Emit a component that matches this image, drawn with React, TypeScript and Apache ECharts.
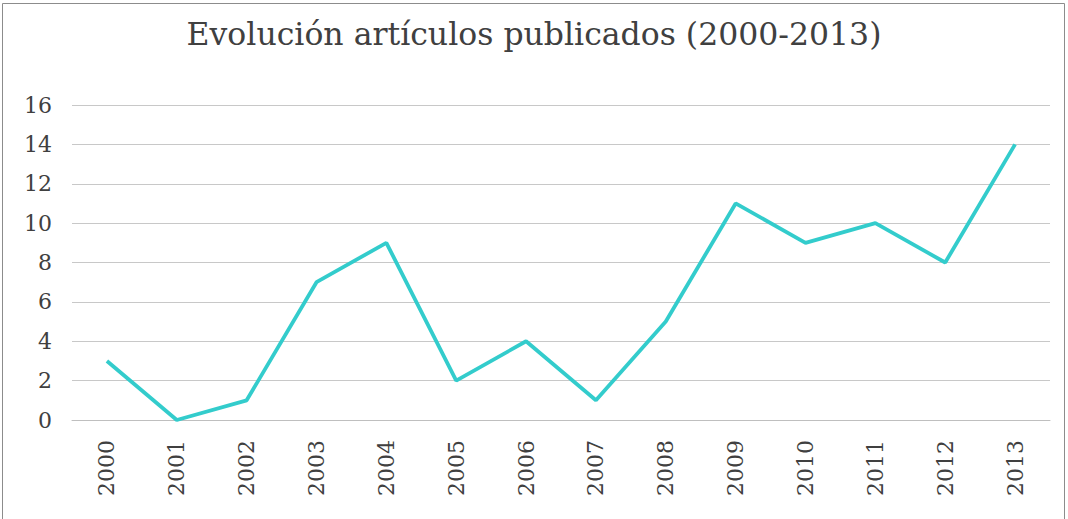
import React, { useEffect, useRef } from "react";
import * as echarts from "echarts";

const title = "Evolución artículos publicados (2000-2013)";
const years = ["2000", "2001", "2002", "2003", "2004", "2005", "2006", "2007", "2008", "2009", "2010", "2011", "2012", "2013"];
const articles = [3, 0, 1, 7, 9, 2, 4, 1, 5, 11, 9, 10, 8, 14];

const FONT = "DejaVu Serif";

export default function App() {
  const ref = useRef<HTMLDivElement>(null);
  useEffect(() => {
    const chart = echarts.init(ref.current!, null, { renderer: "svg" });
    chart.setOption({
      animation: false,
      backgroundColor: "#ffffff",
      title: {
        text: title,
        left: "center",
        top: 13,
        textStyle: { fontFamily: FONT, fontSize: 31.5, fontWeight: "normal", color: "#404040" },
      },
      graphic: [
        {
          type: "rect",
          shape: { x: 2.5, y: 3.5, width: 1062, height: 540 },
          style: { fill: "none", stroke: "#8c8c8c", lineWidth: 1 },
          silent: true,
        },
      ],
      grid: { left: 72, right: 18, top: 105, bottom: 99, containLabel: false },
      xAxis: {
        type: "category",
        data: years,
        boundaryGap: true,
        axisLine: { show: true, lineStyle: { color: "#bfbfbf", width: 1 } },
        axisTick: { show: false },
        axisLabel: {
          rotate: 90,
          margin: 20,
          fontFamily: FONT,
          fontSize: 22,
          color: "#404040",
        },
      },
      yAxis: {
        type: "value",
        min: 0,
        max: 16,
        interval: 2,
        axisLine: { show: false },
        axisTick: { show: false },
        splitLine: { lineStyle: { color: "#c8c8c8", width: 1 } },
        axisLabel: { margin: 20, fontFamily: FONT, fontSize: 22, color: "#404040" },
      },
      series: [
        {
          type: "line",
          data: articles,
          symbol: "none",
          lineStyle: { color: "#33CCCC", width: 3.8 },
        },
      ],
    });
    return () => chart.dispose();
  }, []);
  return (
    <div style={{ position: "absolute", left: 0, top: 0, width: 1068, height: 519 }}>
      <div ref={ref} style={{ width: 1068, height: 519 }} />
    </div>
  );
}
